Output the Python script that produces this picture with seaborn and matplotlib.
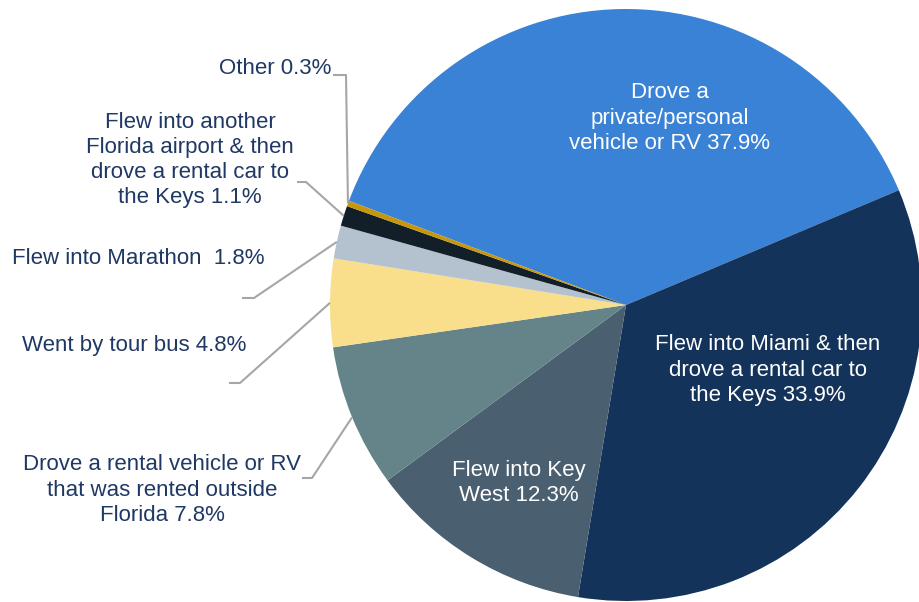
import numpy as np
import matplotlib
matplotlib.use("Agg")
import matplotlib.pyplot as plt
import seaborn as sns

# Data (clockwise, starting at upper left)
categories = [
    "Drove a\nprivate/personal\nvehicle or RV",
    "Flew into Miami & then\ndrove a rental car to\nthe Keys",
    "Flew into Key\nWest",
    "Drove a rental vehicle or RV\nthat was rented outside\nFlorida",
    "Went by tour bus",
    "Flew into Marathon ",
    "Flew into another\nFlorida airport & then\ndrove a rental car to\nthe Keys",
    "Other",
]
shares = [37.9, 33.9, 12.3, 7.8, 4.8, 1.8, 1.1, 0.3]
slice_colors = ["#3A82D6", "#14335A", "#4A5F70", "#64848A",
                "#F9DE8C", "#B4C2D0", "#121E28", "#C8960A"]

W, H = 920, 602
TEXT = "#1F3864"
LEADER = "#A6A6A6"


def main():
    sns.set_theme(style="white")
    plt.rcParams["font.family"] = ["Liberation Sans", "DejaVu Sans"]
    palette = sns.color_palette(slice_colors)

    fig = plt.figure(figsize=(W / 100, H / 100), dpi=100)
    ax = fig.add_axes([0, 0, 1, 1])

    cx, cy, r = 626, H - 305, 296
    wedges, _ = ax.pie(
        shares,
        colors=palette,
        startangle=159.4,
        counterclock=False,
        center=(cx, cy),
        radius=r,
        wedgeprops=dict(linewidth=0),
    )
    ax.set_xlim(0, W)
    ax.set_ylim(0, H)
    ax.set_aspect("equal")
    ax.axis("off")

    labels = [f"{c} {s}%" for c, s in zip(categories, shares)]

    # labels inside the pie (white)
    inside = {0: (670, 118), 1: (768, 370), 2: (519, 483)}
    for i, (x, y) in inside.items():
        ax.text(x, H - y, labels[i], color="white", fontsize=16,
                ha="center", va="center", linespacing=1.27)

    # labels outside with leader lines: text pos, alignment, elbow points
    outside = {
        7: ((331, 68), "right", [(333, 75), (346, 75)]),
        6: ((190, 160), "center", [(297, 182), (306, 182)]),
        5: ((12, 258), "left", [(242, 298), (254, 298)]),
        4: ((22, 345), "left", [(229, 383), (240, 383)]),
        3: ((162, 490), "center", [(302, 478), (312, 478)]),
    }
    for i, ((x, y), ha, elbow) in outside.items():
        ax.text(x, H - y, labels[i], color=TEXT, fontsize=16,
                ha=ha, va="center", linespacing=1.27, multialignment="center")
        w = wedges[i]
        mid = np.deg2rad((w.theta1 + w.theta2) / 2)
        ex = cx + r * np.cos(mid)
        ey = cy + r * np.sin(mid)
        xs = [p[0] for p in elbow] + [ex]
        ys = [H - p[1] for p in elbow] + [ey]
        ax.plot(xs, ys, color=LEADER, linewidth=1.5, solid_capstyle="butt")

    fig.savefig("out.png", dpi=100)
    plt.close(fig)


if __name__ == "__main__":
    main()
